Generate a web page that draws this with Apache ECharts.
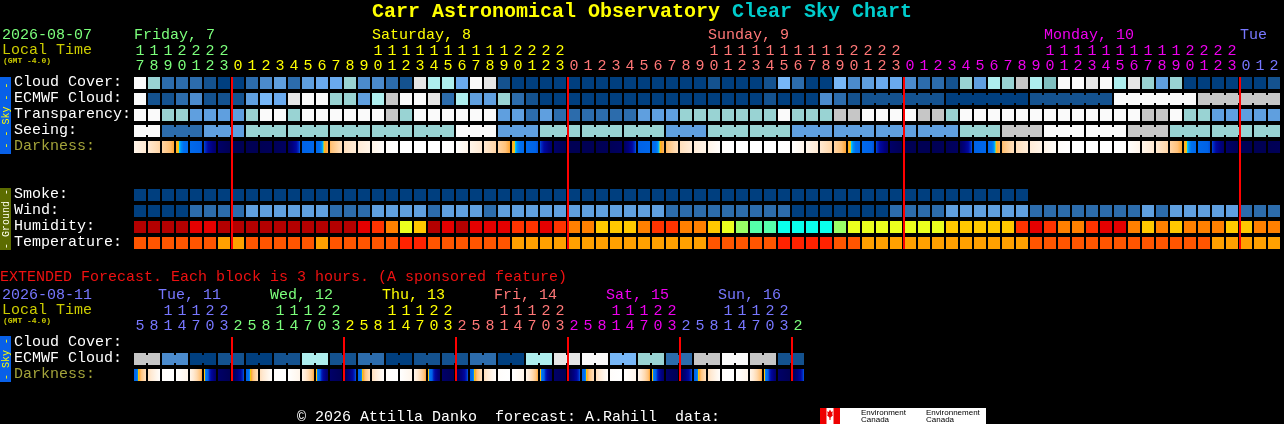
<!DOCTYPE html>
<html><head><meta charset="utf-8">
<script src="https://cdn.jsdelivr.net/npm/echarts@6/dist/echarts.min.js"></script>
<style>html,body{margin:0;padding:0;background:#000;}#c{width:1284px;height:424px;}</style>
</head><body><div id="c"></div>
<script>
// ---------------- DATA ----------------
const hours = [17,18,19,20,21,22,23,
  0,1,2,3,4,5,6,7,8,9,10,11,12,13,14,15,16,17,18,19,20,21,22,23,
  0,1,2,3,4,5,6,7,8,9,10,11,12,13,14,15,16,17,18,19,20,21,22,23,
  0,1,2,3,4,5,6,7,8,9,10,11,12,13,14,15,16,17,18,19,20,21,22,23,
  0,1,2];
const dayNames = ['Friday, 7','Saturday, 8','Sunday, 9','Monday, 10','Tue'];
const dayLabelCol = [0,17,41,65,79];
const dayColors = ['#7cff7c','#ffff00','#ff7777','#ee00ee','#7777ff'];
const midnights = [7,31,55,79];
const rowNames = ['Cloud Cover:','ECMWF Cloud:','Transparency:','Seeing:','Darkness:','Smoke:','Wind:','Humidity:','Temperature:'];

// sky levels: index into SKY palette (0 = darkest blue ... 12 = white)
const cloudCover = [].concat(
  [12,8,2,2,2,1,0],
  [0,2,3,4,2,4,5,5,8,3,3,2,1,11,9,9,5,12,11,1,0,0,0,0],
  [0,0,0,0,0,0,0,0,0,0,1,0,0,0,1,6,2,0,0,6,3,4,5,5],
  [3,2,2,1,8,4,9,8,10,9,7,12,12,11,12,9,11,8,4,8,0,0,0,0],
  [0,0,1]);
const ecmwfHourly = [].concat(
  [12,1,1,2,3,1,1],
  [1,4,6,5,11,12,12,8,8,4,9,10,12,12,11,2,9,4,4,8,2,1,0,0],
  [0,0,0,0,0,0,0,0,0,0,0,0,0,0,1,0,0,0,3,2,1]);
const ecmwf6h = [1,0,1,12,10];
const transparency = [].concat(
  [12,12,8,8,4,4,4],
  [4,8,12,12,8,12,12,12,12,12,12,10,8,12,12,12,12,12,12,4,4,2,4,2],
  [2,2,2,2,2,4,4,4,8,8,8,8,8,8,8,12,8,8,8,10,10,12,12,12],
  [12,10,10,8,12,12,12,12,12,12,12,12,12,12,12,12,12,10,10,12,8,8,4,4],
  [4,4,4]);
const seeing3h = [12,2,4,8,8,8,8,8,12,4,8,8,8,4,8,8,4,4,4,4,8,10,12,12,10,8,8,8];
// darkness value at each hour boundary (0 = daylight ... 10 = darkest)
const darkness = [].concat(
  [1.0,2.0,3.2,4.5,5.6,6.1,8.8],
  [9.8,9.8,9.8,9.6,9.2,6.0,5.7,4.2,2.6,1.8,1.1,0.2,0,0,0,0,0.1,1.0,2.0,3.2,4.5,5.6,6.1,8.8],
  [9.8,9.8,9.8,9.6,9.2,6.0,5.7,4.2,2.6,1.8,1.1,0.2,0,0,0,0,0.1,1.0,2.0,3.2,4.5,5.6,6.1,8.8],
  [9.8,9.8,9.8,9.6,9.2,6.0,5.7,4.2,2.6,1.8,1.1,0.2,0,0,0,0,0.1,1.0,2.0,3.2,4.5,5.6,6.1,8.8],
  [9.8,9.8,9.8,9.6]);
const smoke = [0,0,0,0,0,0,0,0,0,0,0,0,0,0,0,0,0,0,0,0,0,0,0,0,0,0,0,0,0,0,0,0,
               0,0,0,0,0,0,0,0,0,0,0,0,0,0,0,0,0,0,0,0,0,0,0,0,0,0,0,0,0,0,0,0];
const wind = [].concat(
  [0,0,0,0,2,2,2],
  [2,4,4,4,4,4,4,2,2,2,4,4,4,4,2,4,4,4,2,4,4,4,4,4],
  [4,4,4,4,4,4,4,2,2,2,2,2,2,2,2,2,0,0,0,0,0,0,0,2],
  [2,2,2,4,4,4,4,4,4,2,2,2,2,2,2,2,2,4,2,4,4,4,4,4],
  [2,2,2]);
const humidity = [].concat(
  [0,0,0,0,1,1,0],
  [0,0,0,0,0,0,0,0,0,1,2,3,5,4,0,1,0,1,1,1,2,2,1,2],
  [3,3,4,4,4,3,2,2,3,3,4,5,6,7,7,8,8,8,8,6,5,5,5,5],
  [5,5,5,4,4,4,4,4,2,1,2,3,3,2,1,1,3,4,3,4,3,3,3,4],
  [4,3,3]);
const temperature = [].concat(
  [1,1,1,1,1,1,2],
  [2,1,1,1,1,1,2,1,1,1,1,1,0,0,1,1,1,1,1,1,2,2,2,2],
  [2,2,2,2,2,2,2,2,2,2,1,1,1,1,1,0,0,0,0,1,1,2,2,2],
  [2,2,2,2,2,2,2,2,2,1,1,1,1,1,1,1,1,1,1,1,1,1,2,2],
  [2,2,2]);

// extended forecast (3-hour blocks)
const extHours = [5,8,11,14,17,20,23,
  2,5,8,11,14,17,20,23, 2,5,8,11,14,17,20,23, 2,5,8,11,14,17,20,23,
  2,5,8,11,14,17,20,23, 2,5,8,11,14,17,20,23, 2];
const extDayNames = ['Tue, 11','Wed, 12','Thu, 13','Fri, 14','Sat, 15','Sun, 16'];
const extDayStart = [-1,7,15,23,31,39];
const extDayColors = ['#7777ff','#7cff7c','#ffff00','#ff7777','#ee00ee','#7777ff','#7cff7c'];
const extMidnights = [7,15,23,31,39,47];
const extEcmwf6h = [10,3,0,1,0,1,9,1,2,0,1,1,2,0,9,11,12,6,8,2,10,12,10,1];
const extDarkness = [6.0,2.6,0.2,0,1.0,4.5,8.8,9.8, 6.0,2.6,0.2,0,1.0,4.5,8.8,9.8,
  6.0,2.6,0.2,0,1.0,4.5,8.8,9.8, 6.0,2.6,0.2,0,1.0,4.5,8.8,9.8,
  6.0,2.6,0.2,0,1.0,4.5,8.8,9.8, 6.0,2.6,0.2,0,1.0,4.5,8.8,9.8, 6.0];

// ---------------- STYLE ----------------
const SKY = ['#003f7f','#14528f','#2c6cac','#4b8bcd','#5f9fdf','#6aaaee','#77b7f7','#7fbfbf','#99d3d3','#aeeeee','#c6c6c6','#e6e6e6','#fafafa'];
const HUM = ['#b40000','#e40000','#ff3300','#ff8000','#ffc800','#ebff1e','#99ff66','#55ffaa','#0affec'];
const TMP = ['#ff2200','#ff5500','#ffa000'];
const RAMP = [[0,'#ffffff'],[1,'#fff5ea'],[2,'#ffe9d2'],[3,'#ffd9ae'],[4,'#ffc27a'],[4.5,'#ffa533'],
  [4.72,'#ffc800'],[4.8,'#00d0ff'],[4.95,'#0090f8'],[5.2,'#0070f0'],[6.0,'#0062e6'],[6.3,'#0030c8'],
  [7,'#0008a0'],[8,'#000080'],[9,'#000064'],[10,'#000050']];
const FONT = '15px "Liberation Mono", "DejaVu Sans Mono", monospace';

function hex2rgb(h){return [parseInt(h.substr(1,2),16),parseInt(h.substr(3,2),16),parseInt(h.substr(5,2),16)];}
function rampColor(v){
  if (v <= RAMP[0][0]) return RAMP[0][1];
  for (let i=1;i<RAMP.length;i++){
    if (v <= RAMP[i][0]) {
      const a=RAMP[i-1], b=RAMP[i], t=(v-a[0])/(b[0]-a[0]);
      const ca=hex2rgb(a[1]), cb=hex2rgb(b[1]);
      return 'rgb('+ca.map((c,j)=>Math.round(c+(cb[j]-c)*t)).join(',')+')';
    }
  }
  return RAMP[RAMP.length-1][1];
}
function gradStops(v0,v1){
  const lo=Math.min(v0,v1), hi=Math.max(v0,v1);
  const mids=RAMP.filter(r=>r[0]>lo&&r[0]<hi).map(r=>({offset:(r[0]-v0)/(v1-v0),color:r[1]}));
  mids.sort((a,b)=>a.offset-b.offset);
  return [{offset:0,color:rampColor(v0)}].concat(mids,[{offset:1,color:rampColor(v1)}]);
}

// ---------------- BUILD ----------------
function dayIndex(hs){let d=0;return hs.map((h,i)=>{if(i>0&&h<hs[i-1])d++;return d;});}
const dayOf = dayIndex(hours), extDayOf = dayIndex(extHours);
const hourly = (arr,row)=>arr.map((v,k)=>[k,row,1,v]);

function blockSeries(name, gi, items, pal){
  return {type:'custom', name, xAxisIndex:gi, yAxisIndex:gi, data:items, z:2,
    renderItem(params, api){
      const col=api.value(0), row=api.value(1), span=api.value(2), lvl=api.value(3);
      const p=api.coord([col,row]); const s=api.size([1,1]);
      const w=s[0]-2, h=s[1]-4, fill=pal[lvl]; const ch=[];
      for(let i=0;i<span;i++){
        ch.push({type:'rect',shape:{x:p[0]+i*s[0],y:p[1],width:w,height:h},style:{fill}});
        if(i<span-1) ch.push({type:'rect',shape:{x:p[0]+i*s[0]+w,y:p[1]+2,width:s[0]-w,height:h-4},style:{fill}});
      }
      return {type:'group',children:ch};
    }};
}
function darkSeries(gi,row,bounds){
  const items=[]; for(let k=0;k<bounds.length-1;k++) items.push([k,row,bounds[k],bounds[k+1]]);
  return {type:'custom', name:'Darkness', xAxisIndex:gi, yAxisIndex:gi, data:items, z:2,
    renderItem(params, api){
      const p=api.coord([api.value(0),api.value(1)]); const s=api.size([1,1]);
      const v0=api.value(2), v1=api.value(3);
      const fill = v0===v1 ? rampColor(v0) : new echarts.graphic.LinearGradient(0,0,1,0,gradStops(v0,v1));
      return {type:'rect',shape:{x:p[0],y:p[1],width:s[0]-2,height:s[1]-4},style:{fill}};
    }};
}
function hourLabelSeries(gi, hs, days, colors){
  return {type:'custom', xAxisIndex:gi, yAxisIndex:gi, data:hs.map((h,k)=>[k,h,days[k]]), z:3,
    renderItem(params, api){
      const k=api.value(0), h=api.value(1), d=api.value(2);
      const x=api.coord([k,0])[0]+6;
      const fill=colors[d];
      const mk=(t,y)=>({type:'text',style:{text:t,x,y,fill,font:FONT,align:'center',textAlign:'center',verticalAlign:'middle',textVerticalAlign:'middle'}});
      const ch=[mk(String(h%10), api.coord([k,-0.68])[1])];
      if(h>=10) ch.push(mk(String(Math.floor(h/10)), api.coord([k,-1.64])[1]));
      return {type:'group',children:ch};
    }};
}
function redLines(gi, cols, lastRow){
  return {type:'custom', xAxisIndex:gi, yAxisIndex:gi, data:cols.map(c=>[c,0]), z:5,
    renderItem(params, api){
      const p=api.coord([api.value(0),0]); const q=api.coord([api.value(0),lastRow]);
      return {type:'rect',shape:{x:Math.round(p[0])-1,y:p[1],width:2,height:q[1]-p[1]},style:{fill:'#ff0000'}};
    }};
}

const seeingItems = seeing3h.map((v,g)=>{const s=Math.max(0,3*g-1), e=Math.min(hours.length-1,3*g+1); return [s,3,e-s+1,v];});
const ecmwfItems = hourly(ecmwfHourly,1).concat(ecmwf6h.map((v,i)=>[ecmwfHourly.length+6*i,1,6,v]));
const extEcmwfItems = extEcmwf6h.map((v,i)=>[2*i,1,2,v]);

const series = [
  blockSeries('Cloud Cover',0,hourly(cloudCover,0),SKY),
  blockSeries('ECMWF Cloud',0,ecmwfItems,SKY),
  blockSeries('Transparency',0,hourly(transparency,2),SKY),
  blockSeries('Seeing',0,seeingItems,SKY),
  darkSeries(0,4,darkness),
  blockSeries('Smoke',0,hourly(smoke,7),SKY),
  blockSeries('Wind',0,hourly(wind,8),SKY),
  blockSeries('Humidity',0,hourly(humidity,9),HUM),
  blockSeries('Temperature',0,hourly(temperature,10),TMP),
  hourLabelSeries(0,hours,dayOf,dayColors),
  redLines(0,midnights,10.75),
  blockSeries('ECMWF Cloud ext',1,extEcmwfItems,SKY),
  darkSeries(1,2,extDarkness),
  hourLabelSeries(1,extHours,extDayOf,extDayColors),
  redLines(1,extMidnights,2.75)
];

// ---------------- TEXT / DECOR ----------------
function T(text,x,y,fill,font,extra){
  return Object.assign({type:'text',x:x,y:y,z:10,style:{text,fill,font:font||FONT,align:'left',textAlign:'left',verticalAlign:'middle',textVerticalAlign:'middle'}},extra||{});
}
function RT(text,x,y,fill){
  return {type:'text',x:x,y:y,z:10,rotation:Math.PI/2,style:{text,fill,font:'10px "Liberation Mono", monospace',align:'center',textAlign:'center',verticalAlign:'middle',textVerticalAlign:'middle'}};
}
function R(x,y,w,h,fill){return {type:'rect',z:1,shape:{x,y,width:w,height:h},style:{fill}};}
const TF='bold 20px "Liberation Mono", "DejaVu Sans Mono", monospace';
const G = [];
G.push({type:'text',x:642,y:12,z:10,style:{text:'{a|Carr Astronomical Observatory} {b|Clear Sky Chart}',
  font:TF,align:'center',textAlign:'center',verticalAlign:'middle',textVerticalAlign:'middle',
  rich:{a:{fill:'#ffff00',color:'#ffff00',font:TF},b:{fill:'#00cccc',color:'#00cccc',font:TF}}}});
G.push(T('2026-08-07',2,35,'#7cff7c'));
G.push(T('Local Time',2,50,'#cccc00'));
G.push(T('(GMT -4.0)',3,61,'#cccc00','bold 8px "Liberation Mono", monospace'));
dayNames.forEach((n,i)=>G.push(T(n,134+14*dayLabelCol[i],35,dayColors[i])));
const rowPos=[0,1,2,3,4,7,8,9,10];
rowNames.forEach((n,i)=>G.push(T(n,14,77+16*rowPos[i]+5.5,n==='Darkness:'?'#a3a33a':'#ffffff')));
// side bars
G.push(R(0,77,11,77,'#0860e8'));
G.push(RT('- - Sky - -',6,115.5,'#ffff00'));
G.push(R(0,188,11,62,'#5c6c00'));
G.push(RT('- Ground -',6,219,'#ffffee'));
// extended
G.push(T('EXTENDED Forecast. Each block is 3 hours. (A sponsored feature)',0,277,'#ee1111'));
G.push(T('2026-08-11',2,295,'#7777ff'));
G.push(T('Local Time',2,310,'#cccc00'));
G.push(T('(GMT -4.0)',3,321,'#cccc00','bold 8px "Liberation Mono", monospace'));
extDayNames.forEach((n,i)=>G.push(T(n,134+14*extDayStart[i]+38,295,extDayColors[i])));
G.push(T('Cloud Cover:',14,342.5,'#ffffff'));
G.push(T('ECMWF Cloud:',14,358.5,'#ffffff'));
G.push(T('Darkness:',14,374.5,'#a3a33a'));
G.push(R(0,336,11,46,'#0860e8'));
G.push(RT('- Sky -',6,359,'#ffff00'));
// footer
G.push(T('\u00a9 2026 Attilla Danko  forecast: A.Rahill  data:',297,417,'#ffffff'));
G.push(R(820,408,166,16,'#ffffff'));
G.push(R(820,408,6.5,16,'#ee0000'));
G.push(R(833.5,408,6.5,16,'#ee0000'));
G.push({type:'polygon',z:2,shape:{points:[[830,409.5],[831.3,412],[832.8,411.2],[832.2,414.5],[833.2,415],[830.6,417.6],[830.5,420],[829.5,420],[829.4,417.6],[826.8,415],[827.8,414.5],[827.2,411.2],[828.7,412]]},style:{fill:'#ee0000'}});
G.push(T('Environment',861,413,'#000000','8px "Liberation Sans", sans-serif'));
G.push(T('Canada',861,420,'#000000','8px "Liberation Sans", sans-serif'));
G.push(T('Environnement',926,413,'#000000','8px "Liberation Sans", sans-serif'));
G.push(T('Canada',926,420,'#000000','8px "Liberation Sans", sans-serif'));

const chart = echarts.init(document.getElementById('c'));
chart.setOption({
  backgroundColor:'#000000',
  animation:false,
  grid:[{left:134,top:77,width:1148,height:176},{left:134,top:337,width:672,height:48}],
  xAxis:[{gridIndex:0,type:'value',min:0,max:82,show:false},{gridIndex:1,type:'value',min:0,max:48,show:false}],
  yAxis:[{gridIndex:0,type:'value',min:0,max:11,inverse:true,show:false},{gridIndex:1,type:'value',min:0,max:3,inverse:true,show:false}],
  series:series,
  graphic:{elements:G}
});
</script></body></html>
